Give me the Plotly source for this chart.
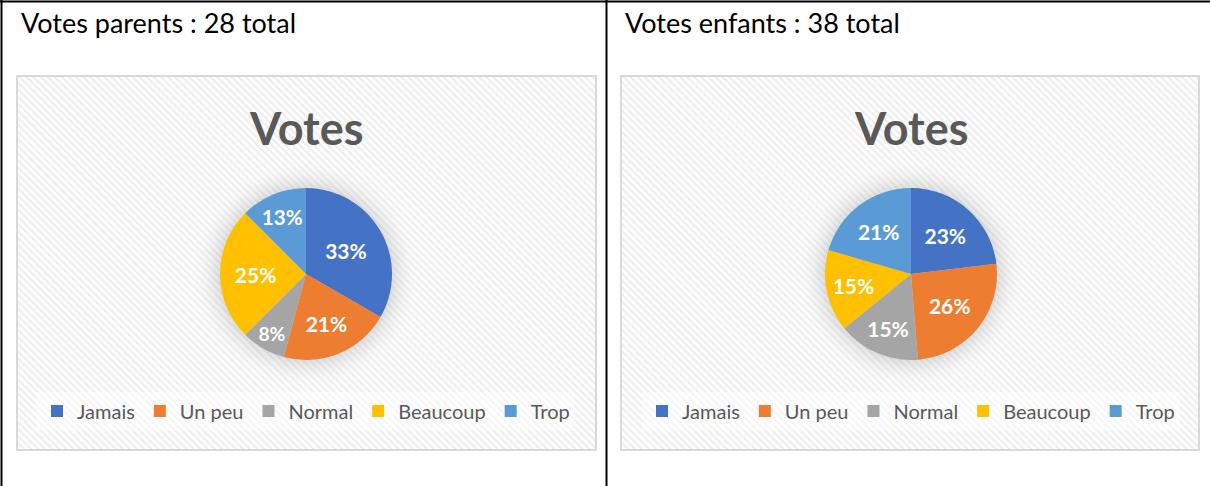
import base64
import plotly.graph_objects as go

# ---- data ----
categories = ["Jamais", "Un peu", "Normal", "Beaucoup", "Trop"]
parents_votes = [8, 5, 2, 6, 3]
enfants_votes = [9, 10, 6, 6, 8]
header_parents = "Votes parents : 28 total"
header_enfants = "Votes enfants : 38 total"
chart_title = "Votes"
colors = ["#4472C4", "#ED7D31", "#A5A5A5", "#FFC000", "#5B9BD5"]

W, H = 1210, 486
FONT = "Lato, 'Open Sans', sans-serif"


def px(x):
    return x / W


def py(y):
    return 1 - y / H


# chart boxes (pixel coordinates of each Excel chart area)
boxes = [(17, 76, 596, 450), (621, 76, 1199, 450)]
centers = [(306, 274), (911, 274)]
R = 86


def bg_svg(w, h, cx, cy):
    svg = f'''<svg xmlns="http://www.w3.org/2000/svg" width="{w}" height="{h}" viewBox="0 0 {w} {h}">
<defs>
<pattern id="p" patternUnits="userSpaceOnUse" width="5" height="5" patternTransform="rotate(-45)">
<rect width="5" height="5" fill="#ffffff"/>
<rect width="2.2" height="5" fill="#eeeeee"/>
</pattern>
<radialGradient id="g" cx="{cx}" cy="{cy}" r="{R+30}" gradientUnits="userSpaceOnUse">
<stop offset="0.70" stop-color="#9a9a9a" stop-opacity="0.40"/>
<stop offset="0.85" stop-color="#bdbdbd" stop-opacity="0.15"/>
<stop offset="1" stop-color="#ffffff" stop-opacity="0"/>
</radialGradient>
</defs>
<rect width="{w}" height="{h}" fill="url(#p)"/>
<circle cx="{cx}" cy="{cy}" r="{R+30}" fill="url(#g)"/>
</svg>'''
    return "data:image/svg+xml;base64," + base64.b64encode(svg.encode()).decode()


fig = go.Figure()

for i, (vals, leg, grp) in enumerate([(parents_votes, "legend", "parents"),
                                       (enfants_votes, "legend2", "enfants")]):
    cx, cy = centers[i]
    fig.add_trace(go.Pie(
        labels=categories,
        values=vals,
        sort=False,
        direction="clockwise",
        rotation=0,
        marker=dict(colors=colors, line=dict(width=0)),
        texttemplate="%{percent:.0%}",
        textposition="inside",
        insidetextorientation="horizontal",
        textfont=dict(family=FONT, size=21, color="white", weight="bold"),
        hoverinfo="label+value+percent",
        domain=dict(x=[px(cx - R), px(cx + R)], y=[py(cy + R), py(cy - R)]),
        legend=leg,
        legendgroup=grp,
        showlegend=True,
    ))

shapes = []
images = []
annotations = []
for i, (x0, y0, x1, y1) in enumerate(boxes):
    cx, cy = centers[i]
    images.append(dict(
        source=bg_svg(x1 - x0, y1 - y0, cx - x0, cy - y0),
        xref="paper", yref="paper", x=px(x0), y=py(y0),
        sizex=px(x1) - px(x0), sizey=py(y0) - py(y1),
        sizing="stretch", layer="below", xanchor="left", yanchor="top",
    ))
    shapes.append(dict(type="rect", xref="paper", yref="paper",
                       x0=px(x0), x1=px(x1), y0=py(y1), y1=py(y0),
                       line=dict(color="#D9D9D9", width=2), layer="above"))
    annotations.append(dict(text=chart_title, xref="paper", yref="paper",
                            x=px(cx), y=py(128), xanchor="center", yanchor="middle",
                            showarrow=False,
                            font=dict(family=FONT, size=45, color="#595959", weight="bold")))

# table borders
for (x0, y0, x1, y1) in [(1.5, 0, 1.5, H), (606.5, 0, 606.5, H), (0, 1.5, W, 1.5)]:
    shapes.append(dict(type="line", xref="paper", yref="paper",
                       x0=px(x0), x1=px(x1), y0=py(y0), y1=py(y1),
                       line=dict(color="black", width=2)))

for txt, x in [(header_parents, 19), (header_enfants, 623)]:
    annotations.append(dict(text=txt, xref="paper", yref="paper",
                            x=px(x), y=py(22), xanchor="left", yanchor="middle",
                            showarrow=False,
                            font=dict(family=FONT, size=27, color="black")))

legend_style = dict(orientation="h", xanchor="center", yanchor="middle",
                    bgcolor="rgba(255,255,255,0.45)",
                    font=dict(family=FONT, size=20, color="#595959"),
                    itemwidth=30, traceorder="normal")

fig.update_layout(
    width=W, height=H,
    margin=dict(l=0, r=0, t=0, b=0),
    paper_bgcolor="white",
    plot_bgcolor="white",
    shapes=shapes,
    images=images,
    annotations=annotations,
    legend=dict(x=px(centers[0][0]), y=py(411), **legend_style),
    legend2=dict(x=px(centers[1][0]), y=py(411), **legend_style),
)

fig.write_html("out.html",
               config={"displayModeBar": False},
               post_script="document.body.style.margin='0';document.body.style.overflow='hidden';")
